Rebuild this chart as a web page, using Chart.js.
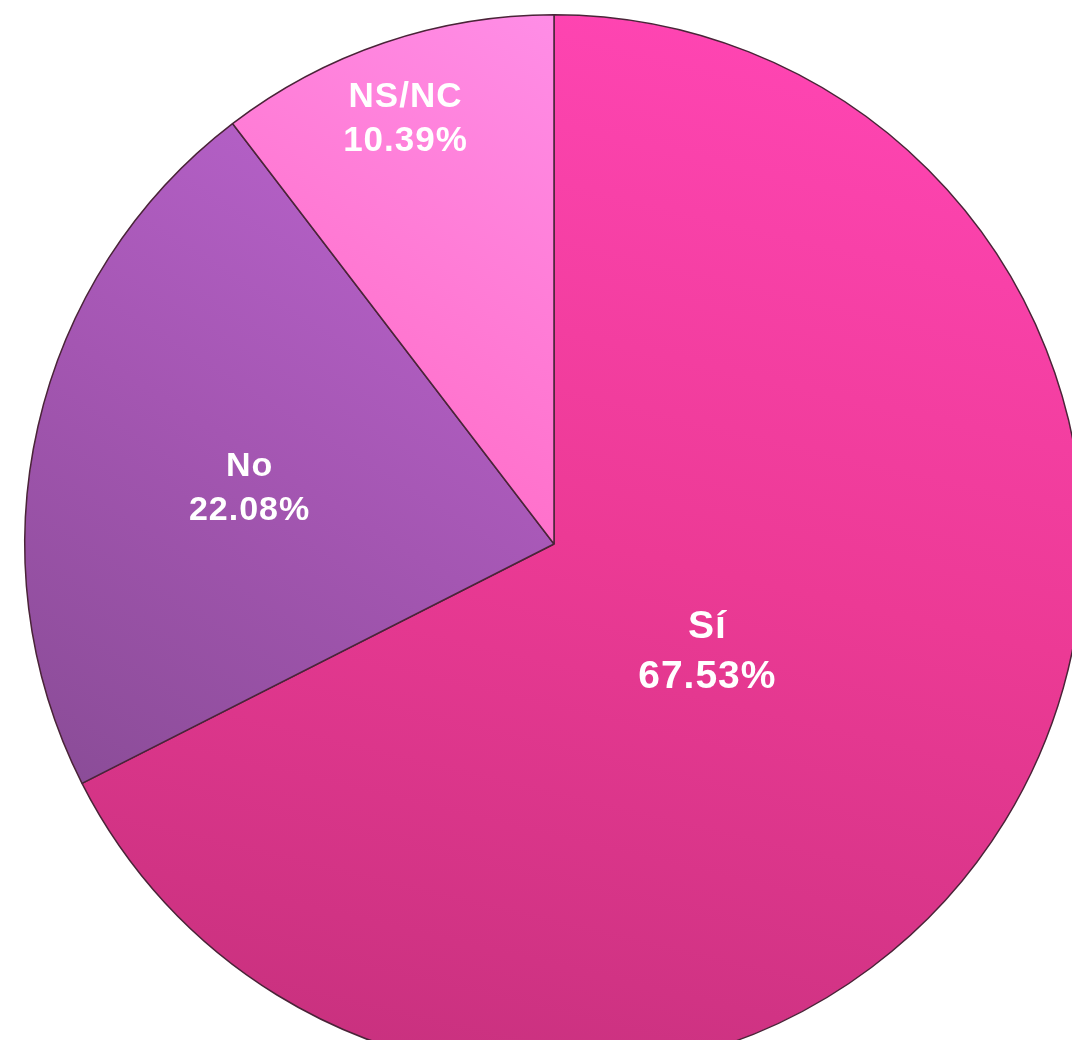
<!DOCTYPE html>
<html>
<head>
<meta charset="utf-8">
<script src="https://cdn.jsdelivr.net/npm/chart.js@4.4.1/dist/chart.umd.min.js"></script>
<style>
  html, body { margin: 0; padding: 0; background: #ffffff; overflow: hidden; width: 1072px; height: 1040px; }
  #wrap { position: absolute; left: 0; top: 0; width: 1100px; height: 1100px; }
</style>
</head>
<body>
<div id="wrap"><canvas id="c" width="1100" height="1100"></canvas></div>
<script>
const categories = ['Sí', 'No', 'NS/NC'];
const values = [67.53, 22.08, 10.39];
const percentLabels = values.map(v => v.toFixed(2) + '%');

const gradientStops = [
  ['#ff45b3', '#ec3a95', '#c9317f'],
  ['#b963cd', '#a456b2', '#8a4c97'],
  ['#ff8de6', '#ff7ad4', '#ff68c2']
];
const labelRadius = [0.34, 0.59, 0.875];
const labelFont = [39, 34, 35];

function sliceGradient(ctx) {
  const chart = ctx.chart;
  const area = chart.chartArea;
  if (!area) return gradientStops[ctx.dataIndex][1];
  const c = chart.ctx;
  const i = ctx.dataIndex;
  let g;
  if (i === 1) {
    g = c.createLinearGradient(area.left + 450, area.top + 120, area.left + 40, area.top + 780);
  } else if (i === 2) {
    g = c.createLinearGradient(area.left + 520, area.top, area.left + 200, area.top + 500);
  } else {
    g = c.createLinearGradient(area.left + 700, area.top, area.left + 450, area.bottom);
  }
  const s = gradientStops[i];
  g.addColorStop(0, s[0]);
  g.addColorStop(0.5, s[1]);
  g.addColorStop(1, s[2]);
  return g;
}

const labelPlugin = {
  id: 'sliceLabels',
  afterDatasetsDraw(chart) {
    const meta = chart.getDatasetMeta(0);
    const c = chart.ctx;
    c.save();
    c.fillStyle = '#ffffff';
    c.textAlign = 'center';
    c.textBaseline = 'middle';
    meta.data.forEach((arc, i) => {
      const p = arc.getProps(['x', 'y', 'startAngle', 'endAngle', 'outerRadius'], true);
      const mid = (p.startAngle + p.endAngle) / 2;
      const r = p.outerRadius * labelRadius[i];
      const x = p.x + Math.cos(mid) * r;
      const y = p.y + Math.sin(mid) * r + 14;
      const fs = labelFont[i];
      const lh = fs * 1.27;
      c.font = 'bold ' + fs + 'px "Liberation Sans", Arial, sans-serif';
      if ('letterSpacing' in c) c.letterSpacing = '1px';
      c.fillText(categories[i], x, y - lh / 2);
      c.fillText(percentLabels[i], x, y + lh / 2);
    });
    c.restore();
  }
};

new Chart(document.getElementById('c'), {
  type: 'pie',
  data: {
    labels: categories,
    datasets: [{
      data: values,
      backgroundColor: sliceGradient,
      borderColor: '#4a2438',
      borderWidth: 1.5
    }]
  },
  options: {
    responsive: false,
    animation: false,
    layout: { padding: { left: 24, right: 16, top: 14, bottom: 26 } },
    plugins: {
      legend: { display: false },
      tooltip: { enabled: false }
    }
  },
  plugins: [labelPlugin]
});
</script>
</body>
</html>
